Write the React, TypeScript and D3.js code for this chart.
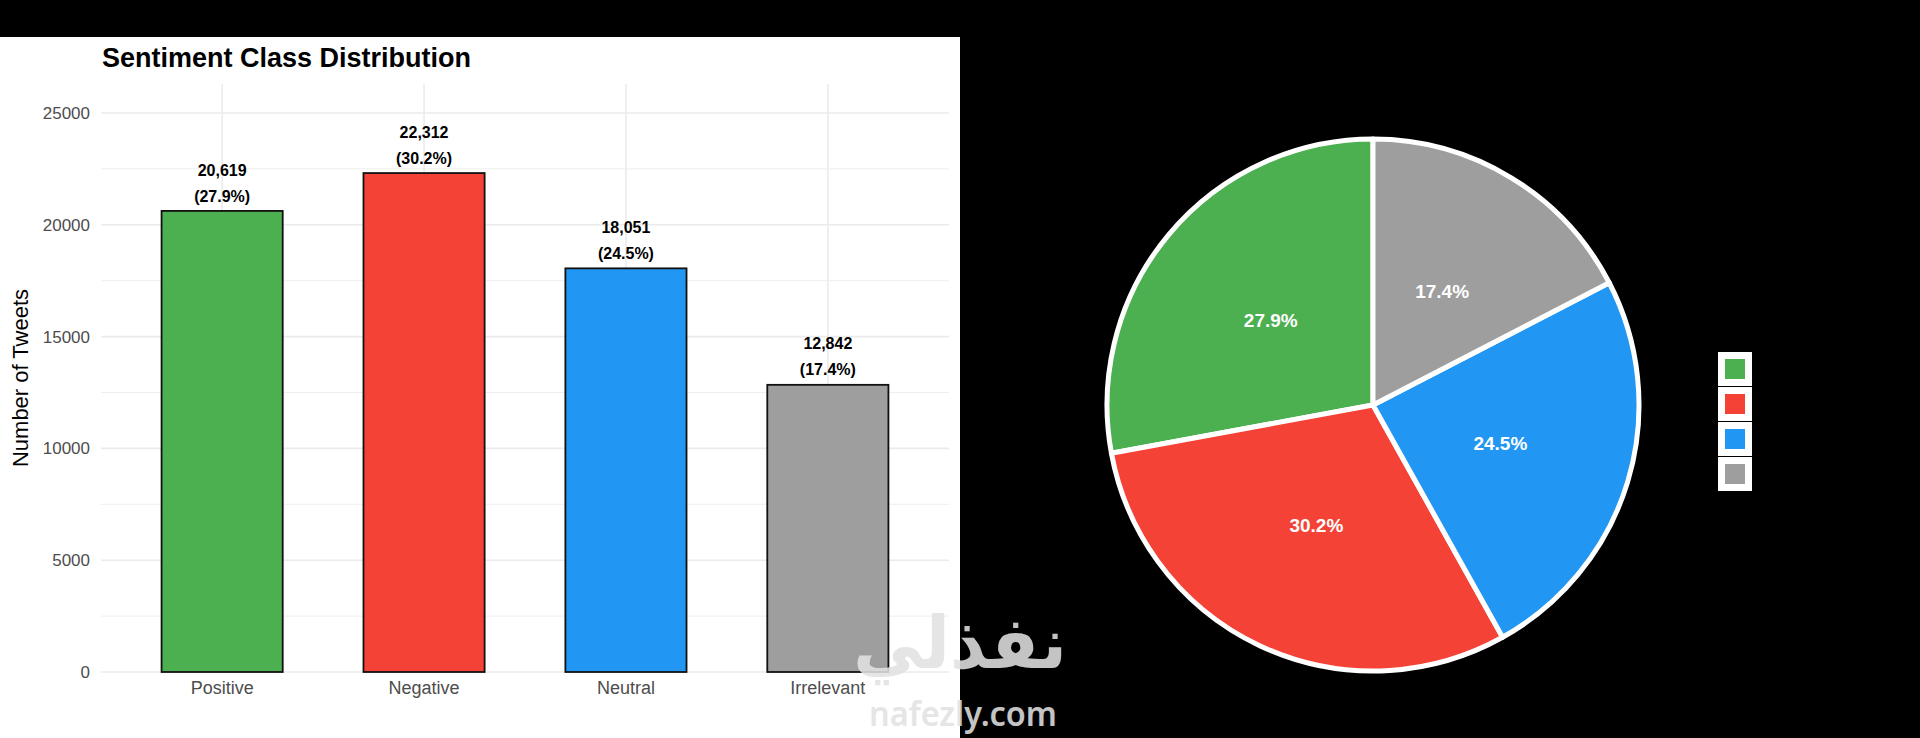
import { useMemo } from 'react'
import * as d3 from 'd3'

const categories = ['Positive', 'Negative', 'Neutral', 'Irrelevant']
const counts = [20619, 22312, 18051, 12842]
const shares = [27.9, 30.2, 24.5, 17.4]
const colors = ['#4CAF50', '#F44336', '#2196F3', '#9E9E9E']
const majorTicks = [0, 5000, 10000, 15000, 20000, 25000]
const minorTicks = [2500, 7500, 12500, 17500, 22500]

const W = 1920
const H = 738
const font = '"Liberation Sans", Arial, Helvetica, sans-serif'

// bar panel
const panel = { left: 101, right: 949, top: 84, bottom: 672 }
// pie placement
const pie = { cx: 1373, cy: 405, r: 266 }
const legend = { x: 1718, y: 352, w: 34, h: 34, gap: 1 }

export default function App() {
  const x = useMemo(
    () => d3.scaleBand<string>().domain(categories).range([panel.left, panel.right]).paddingInner(0.4).paddingOuter(0.3),
    [],
  )
  const y = useMemo(() => d3.scaleLinear().domain([0, 26295]).range([panel.bottom, panel.top]), [])

  const arcs = useMemo(() => d3.pie<number>().sort(null).startAngle(0).endAngle(-2 * Math.PI)(shares), [])
  const arcGen = useMemo(() => d3.arc<d3.PieArcDatum<number>>().innerRadius(0).outerRadius(pie.r), [])

  const fmt = d3.format(',')

  return (
    <svg width={W} height={H} viewBox={`0 0 ${W} ${H}`} style={{ position: 'fixed', left: 0, top: 0, display: 'block' }} fontFamily={font}>
      <rect x={0} y={0} width={W} height={H} fill="#000" />
      <rect x={0} y={37} width={960} height={H - 37} fill="#fff" />

      {/* bar chart */}
      <text x={102} y={67} fontSize={27} fontWeight="bold" fill="#000">
        Sentiment Class Distribution
      </text>

      <g className="grid">
        {minorTicks.map((t) => (
          <line key={`mi${t}`} x1={panel.left} x2={panel.right} y1={y(t)} y2={y(t)} stroke="#ebebeb" strokeWidth={0.8} />
        ))}
        {majorTicks.map((t) => (
          <line key={`ma${t}`} x1={panel.left} x2={panel.right} y1={y(t)} y2={y(t)} stroke="#ebebeb" strokeWidth={1.6} />
        ))}
        {categories.map((c) => {
          const cx = (x(c) ?? 0) + x.bandwidth() / 2
          return <line key={`v${c}`} x1={cx} x2={cx} y1={panel.top} y2={panel.bottom} stroke="#ebebeb" strokeWidth={1.6} />
        })}
      </g>

      <g className="yAxis" fontSize={17} fill="#4d4d4d" textAnchor="end">
        {majorTicks.map((t) => (
          <text key={t} x={90} y={y(t)} dy="0.35em">
            {t}
          </text>
        ))}
      </g>
      <text transform={`translate(28 ${(panel.top + panel.bottom) / 2}) rotate(-90)`} textAnchor="middle" fontSize={22} fill="#000">
        Number of Tweets
      </text>

      <g className="bars">
        {categories.map((c, i) => {
          const bx = x(c) ?? 0
          const top = y(counts[i])
          return (
            <g key={c}>
              <rect x={bx} y={top} width={x.bandwidth()} height={panel.bottom - top} fill={colors[i]} stroke="#111" strokeWidth={1.8} />
              <text x={bx + x.bandwidth() / 2} y={top - 41} dy="0.35em" textAnchor="middle" fontSize={16} fontWeight="bold" fill="#000">
                {fmt(counts[i])}
              </text>
              <text x={bx + x.bandwidth() / 2} y={top - 15} dy="0.35em" textAnchor="middle" fontSize={16} fontWeight="bold" fill="#000">
                {`(${shares[i].toFixed(1)}%)`}
              </text>
            </g>
          )
        })}
      </g>

      <g className="xAxis" fontSize={18} fill="#4d4d4d" textAnchor="middle">
        {categories.map((c) => (
          <text key={c} x={(x(c) ?? 0) + x.bandwidth() / 2} y={688} dy="0.35em">
            {c}
          </text>
        ))}
      </g>

      {/* pie chart */}
      <g transform={`translate(${pie.cx} ${pie.cy})`}>
        {arcs.map((a, i) => (
          <path key={categories[i]} d={arcGen(a) ?? ''} fill={colors[i]} stroke="#fff" strokeWidth={5} strokeLinejoin="round" />
        ))}
        {arcs.map((a, i) => {
          const [lx, ly] = arcGen.centroid(a)
          return (
            <text key={`l${i}`} x={lx} y={ly} dy="0.35em" textAnchor="middle" fontSize={19} fontWeight="bold" fill="#fff">
              {`${shares[i].toFixed(1)}%`}
            </text>
          )
        })}
      </g>

      <g className="legend">
        {categories.map((c, i) => {
          const ky = legend.y + i * (legend.h + legend.gap)
          return (
            <g key={c}>
              <rect x={legend.x} y={ky} width={legend.w} height={legend.h} fill="#fff" />
              <rect x={legend.x + 7} y={ky + 7} width={legend.w - 14} height={legend.h - 14} fill={colors[i]} />
              <text x={legend.x + legend.w + 8} y={ky + legend.h / 2} dy="0.35em" fontSize={16} fill="#000">
                {c}
              </text>
            </g>
          )
        })}
      </g>

      {/* watermark */}
      <g fill="#e2e2e2" opacity={0.87}>
        <text x={853} y={668} fontSize={72} fontWeight="bold" fontFamily='"DejaVu Sans", sans-serif' textLength={214} lengthAdjust="spacingAndGlyphs">
          نفذلي
        </text>
        <text x={869} y={726} fontSize={34} fontWeight={600} fontFamily='"Noto Sans", sans-serif' textLength={188} lengthAdjust="spacingAndGlyphs">
          nafezly.com
        </text>
      </g>
    </svg>
  )
}
